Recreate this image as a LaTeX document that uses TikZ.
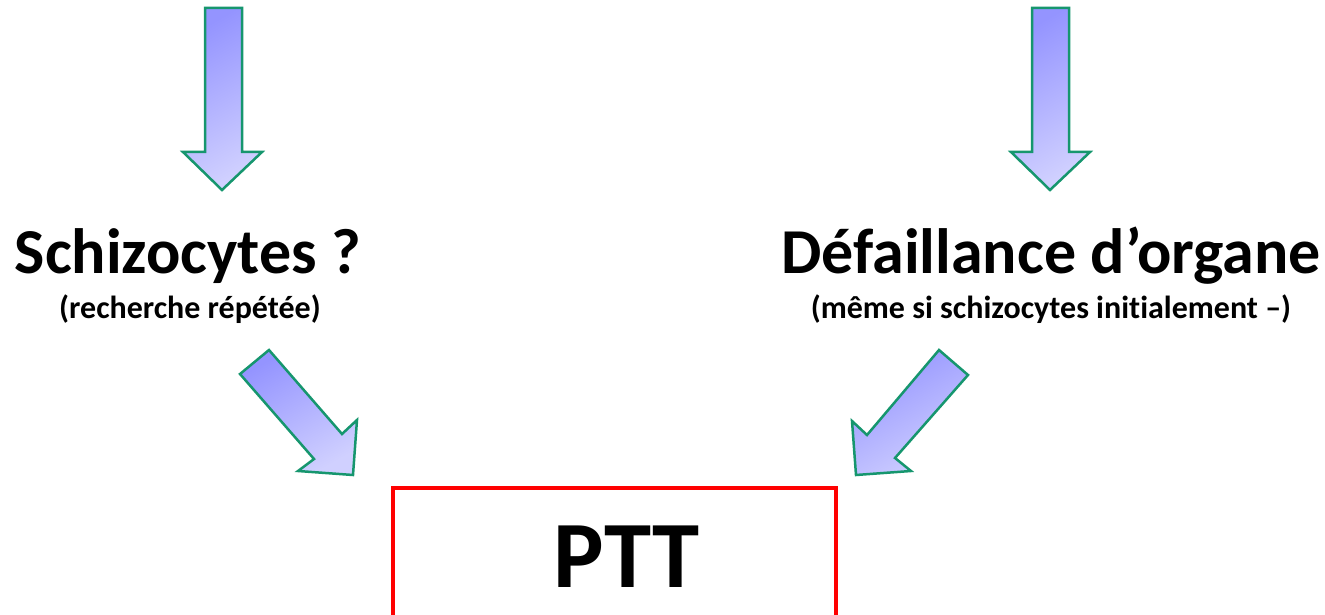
\documentclass[tikz,border=0pt]{standalone}
\usepackage{fontspec}
\setmainfont{Carlito}[Ligatures=NoCommon]
\definecolor{arrtop}{RGB}{148,148,255}
\definecolor{arrbot}{RGB}{208,208,255}
\definecolor{arrline}{RGB}{22,150,110}
\definecolor{boxred}{RGB}{255,0,0}
\tikzset{
  bigarrow/.style={draw=arrline, line width=2.5pt, line join=miter,
    top color=arrtop, bottom color=arrbot, shading angle=30},
  title/.style={anchor=base, inner sep=0pt, font=\fontsize{64}{70}\selectfont\bfseries},
  subtitle/.style={anchor=base, inner sep=0pt, font=\fontsize{32}{36}\selectfont\bfseries},
  resultbox/.style={draw=boxred, line width=4pt, minimum width=443pt, minimum height=150pt,
    inner sep=0pt, text depth=12pt, font=\fontsize{95}{100}\selectfont\bfseries}
}
\begin{document}
\begin{tikzpicture}[x=1pt,y=-1pt]
\useasboundingbox (0,0) rectangle (1325,615);
% top arrows
\draw[bigarrow] (205,8) -- (242,8) -- (242,152) -- (262,152) -- (222,190) -- (183,152) -- (205,152) -- cycle;
\draw[bigarrow] (1032,8) -- (1069,8) -- (1069,152) -- (1090,152) -- (1050,190) -- (1011,152) -- (1032,152) -- cycle;
% labels
\node[title] (schizo) at (188,273) {Schizocytes ?};
\node[subtitle] (schizosub) at (190,318) {(recherche répétée)};
\node[title] (defail) at (1051,273) {Défaillance d’organe};
\node[subtitle] (defailsub) at (1051,318) {(même si schizocytes initialement –)};
% diagonal arrows
\draw[bigarrow] (240,374) -- (269,350) -- (342,434) -- (357,420) -- (353,475) -- (298,471) -- (314,459) -- cycle;
\draw[bigarrow] (939,350) -- (968,375) -- (895,458) -- (911,471) -- (856,475) -- (852,421) -- (867,435) -- cycle;
% result box
\node[resultbox] (ptt) at (614.5,563) {\hspace*{24pt}PTT};
\end{tikzpicture}
\end{document}
